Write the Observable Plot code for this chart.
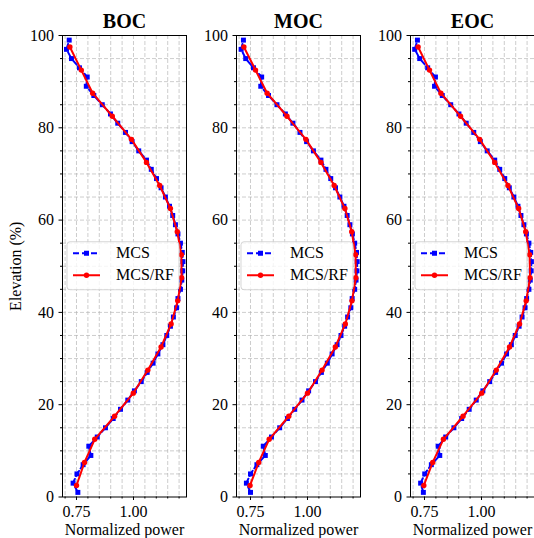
<!DOCTYPE html>
<html><head><meta charset="utf-8">
<script src="https://cdn.jsdelivr.net/npm/d3@7"></script>
<script src="https://cdn.jsdelivr.net/npm/@observablehq/plot@0.6"></script>
<style>
html,body{margin:0;padding:0;background:#fff;overflow:hidden;}
#chart{position:relative;width:534px;height:538px;}
#chart svg{position:absolute;top:0;overflow:visible;}
</style></head><body><div id="chart"></div>
<script>
const panelTitles = ["BOC", "MOC", "EOC"];
const seriesNames = ["MCS", "MCS/RF"];
const mcsElevation = [1,3,5,7,9,11,13,15,17,19,21,23,25,27,29,31,33,35,37,39,41,43,45,47,49,51,53,55,57,59,61,63,65,67,69,71,73,75,77,79,81,83,85,87,89,91,93,95,97,99];
const rfElevation = [2.5,7.5,12.5,17.5,22.5,27.5,32.5,37.5,42.5,47.5,52.5,57.5,62.5,67.5,72.5,77.5,82.5,87.5,92.5,97.5];

const bocMCS = [0.756,0.735,0.752,0.779,0.813,0.804,0.841,0.877,0.911,0.943,0.975,1.004,1.034,1.060,1.086,1.107,1.129,1.146,1.162,1.175,1.189,1.195,1.206,1.212,1.216,1.217,1.214,1.206,1.195,1.184,1.172,1.158,1.140,1.121,1.101,1.078,1.057,1.023,0.994,0.965,0.931,0.899,0.863,0.826,0.793,0.797,0.763,0.728,0.706,0.718];
const bocRF = [0.750,0.785,0.830,0.917,0.999,1.063,1.121,1.165,1.194,1.211,1.210,1.192,1.162,1.115,1.057,0.991,0.907,0.821,0.771,0.721];

const mocMCS = [0.750,0.732,0.750,0.778,0.815,0.806,0.842,0.878,0.912,0.944,0.976,1.005,1.035,1.061,1.087,1.108,1.130,1.147,1.163,1.176,1.190,1.196,1.207,1.213,1.217,1.218,1.215,1.207,1.197,1.186,1.174,1.160,1.142,1.123,1.102,1.081,1.059,1.026,0.996,0.967,0.936,0.903,0.866,0.829,0.795,0.799,0.763,0.729,0.709,0.719];
const mocRF = [0.748,0.786,0.832,0.918,1.000,1.064,1.122,1.166,1.195,1.212,1.211,1.194,1.164,1.117,1.059,0.993,0.910,0.823,0.772,0.721];

const eocMCS = [0.745,0.733,0.751,0.780,0.817,0.810,0.843,0.879,0.913,0.946,0.977,1.006,1.036,1.062,1.088,1.110,1.131,1.148,1.165,1.178,1.191,1.198,1.208,1.214,1.218,1.219,1.216,1.208,1.197,1.186,1.173,1.160,1.142,1.122,1.102,1.080,1.058,1.025,0.995,0.966,0.933,0.901,0.865,0.828,0.794,0.798,0.764,0.729,0.707,0.719];
const eocRF = [0.747,0.786,0.833,0.919,1.001,1.065,1.123,1.167,1.196,1.213,1.211,1.194,1.163,1.116,1.058,0.992,0.908,0.822,0.772,0.722];

const xGridTicks = [0.70,0.75,0.80,0.85,0.90,0.95,1.00,1.05,1.10,1.15,1.20];
const xMajorTicks = [0.75,1.00];
const xMinorTicks = [0.70,0.80,0.85,0.90,0.95,1.05,1.10,1.15,1.20];
const yGridTicks = [5,10,15,20,25,30,35,40,45,50,55,60,65,70,75,80,85,90,95];
const yMajorTicks = [0,20,40,60,80,100];
const yMinorTicks = [5,10,15,25,30,35,45,50,55,65,70,75,85,90,95];
const xLabel = "Normalized power";
const yLabel = "Elevation (%)";

const FONT = '"Liberation Serif","Times New Roman",Times,serif';
const BLUE = "#0000ff", RED = "#ff0000";

function legendMark(index, scales, values, dims) {
  const x0 = dims.marginLeft;
  const yc = dims.marginTop + (dims.height - dims.marginTop - dims.marginBottom) / 2;
  const g = d3.create("svg:g");
  g.append("rect").attr("x", x0 + 5).attr("y", yc - 24).attr("width", 112).attr("height", 48)
    .attr("rx", 3).attr("fill", "#fff").attr("fill-opacity", 0.8)
    .attr("stroke", "#cccccc").attr("stroke-opacity", 0.8).attr("stroke-width", 1);
  const rows = [
    {name: seriesNames[0], y: yc - 12.5, color: BLUE, dash: "6,3", square: true},
    {name: seriesNames[1], y: yc + 9.5, color: RED, dash: null, square: false}
  ];
  for (const r of rows) {
    const l = g.append("line").attr("x1", x0 + 11).attr("x2", x0 + 38).attr("y1", r.y).attr("y2", r.y)
      .attr("stroke", r.color).attr("stroke-width", 2);
    if (r.dash) l.attr("stroke-dasharray", r.dash);
    if (r.square) g.append("rect").attr("x", x0 + 22).attr("y", r.y - 2.5).attr("width", 5).attr("height", 5).attr("fill", r.color);
    else g.append("circle").attr("cx", x0 + 24.5).attr("cy", r.y).attr("r", 2.7).attr("fill", r.color);
    g.append("text").attr("x", x0 + 54).attr("y", r.y).attr("dy", "0.32em")
      .attr("text-anchor", "start")
      .style("font-family", FONT).style("font-size", "16px").attr("fill", "#000").text(r.name);
  }
  return g.node();
}

function panel(title, mcs, rf, withYLabel) {
  const mcsData = mcsElevation.map((e, i) => ({e, v: mcs[i]}));
  const rfData = rfElevation.map((e, i) => ({e, v: rf[i]}));
  const gridStyle = {stroke: "#b0b0b0", strokeOpacity: 0.8, strokeWidth: 0.8, strokeDasharray: "4,2"};
  const marks = [
    Plot.ruleX(xGridTicks, gridStyle),
    Plot.ruleY(yGridTicks, gridStyle),
    Plot.line(mcsData, {x: "v", y: "e", stroke: BLUE, strokeWidth: 2, strokeDasharray: "6,3"}),
    Plot.dot(mcsData, {x: "v", y: "e", symbol: "square", r: 2.8, fill: BLUE, stroke: null}),
    Plot.line(rfData, {x: "v", y: "e", stroke: RED, strokeWidth: 2}),
    Plot.dot(rfData, {x: "v", y: "e", r: 2.7, fill: RED, stroke: null}),
    legendMark,
    Plot.frame({stroke: "#000", strokeWidth: 1}),
    Plot.axisX(xMajorTicks, {tickSize: 3.5, tickPadding: 5, tickFormat: d => d.toFixed(2), fontSize: 16, label: null}),
    Plot.axisX(xMinorTicks, {tickSize: 2, tickFormat: () => "", label: null}),
    Plot.axisY(yMajorTicks, {tickSize: 3.5, tickPadding: 5, tickFormat: d => String(d), fontSize: 16, label: null}),
    Plot.axisY(yMinorTicks, {tickSize: 2, tickFormat: () => "", label: null}),
    Plot.text([title], {frameAnchor: "top", dy: -13.5, textAnchor: "middle", lineAnchor: "middle", fontSize: 20, fontWeight: "bold"}),
    Plot.text([xLabel], {frameAnchor: "bottom", dy: 32.5, textAnchor: "middle", lineAnchor: "middle", fontSize: 16})
  ];
  if (withYLabel) marks.push(Plot.text([yLabel], {frameAnchor: "left", dx: -47, rotate: -90, textAnchor: "middle", lineAnchor: "middle", fontSize: 16}));
  return Plot.plot({
    width: 194, height: 538,
    marginLeft: 62, marginRight: 8, marginTop: 35, marginBottom: 41.5,
    style: {fontFamily: FONT, fontSize: "16px", color: "#000", background: "transparent", overflow: "visible"},
    x: {domain: [0.6886, 1.2325], axis: null},
    y: {domain: [0, 100], axis: null},
    marks
  });
}

const chart = document.getElementById("chart");
const datasets = [[bocMCS, bocRF], [mocMCS, mocRF], [eocMCS, eocRF]];
const offsets = [0, 174, 348];
panelTitles.forEach((t, i) => {
  const svg = panel(t, datasets[i][0], datasets[i][1], i === 0);
  svg.style.left = offsets[i] + "px";
  chart.appendChild(svg);
});
</script></body></html>
